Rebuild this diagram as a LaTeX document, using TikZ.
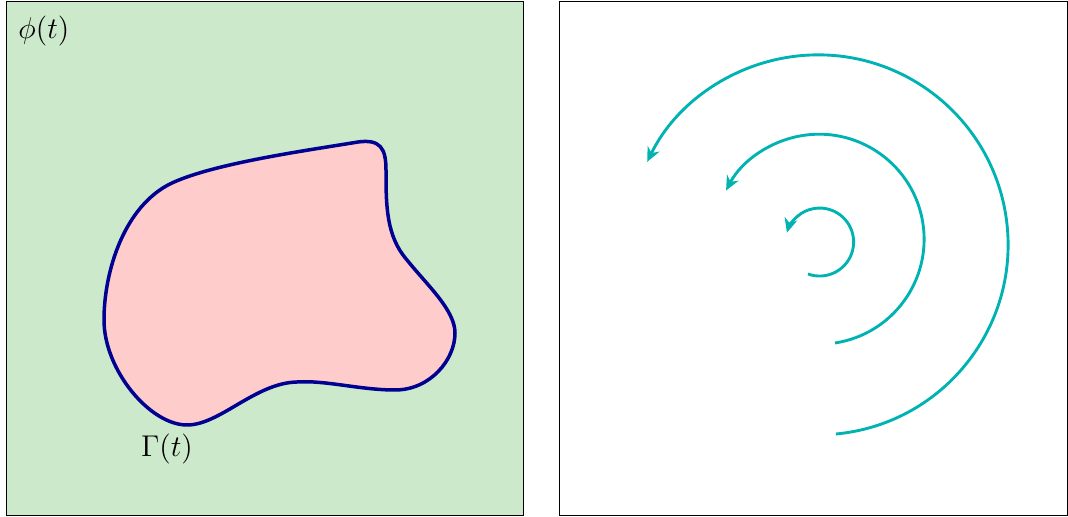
\documentclass[tikz,border=0pt]{standalone}
\usetikzlibrary{arrows.meta}
\definecolor{boxgreen}{RGB}{204,233,204}
\definecolor{blobpink}{RGB}{255,204,204}
\definecolor{blobblue}{RGB}{0,0,145}
\definecolor{spiralcol}{RGB}{0,178,178}
\tikzset{
  panel/.style={draw=black, line width=0.4pt},
  blobline/.style={draw=blobblue, fill=blobpink, line width=1.4pt},
  spiral/.style={draw=spiralcol, line width=1.15pt, -{Stealth[length=5.8pt,width=5.2pt]}},
  lbl/.style={inner sep=0pt, font=\fontsize{12}{14}\selectfont}
}
\begin{document}
\begin{tikzpicture}[x=0.4pt,y=-0.4pt]
\useasboundingbox (0,0) rectangle (1068,517);
% left panel
\draw[panel, fill=boxgreen] (6,2) rectangle (523,516);
\draw[blobline] (104,320)
  .. controls (104,270) and (125,205) .. (172,183)
  .. controls (215,163) and (310,150) .. (358,142)
  .. controls (380,139) and (386,148) .. (386,170)
  .. controls (386,205) and (386,236) .. (407,260)
  .. controls (427,285) and (455,310) .. (455,333)
  .. controls (455,360) and (430,390) .. (395,390)
  .. controls (360,390) and (325,380) .. (297,382)
  .. controls (255,383) and (220,425) .. (187,425)
  .. controls (150,425) and (104,370) .. (104,320) -- cycle;
\node[lbl, anchor=west] (phi) at (18,31) {$\phi(t)$};
\node[lbl] (gamma) at (167,449) {$\Gamma(t)$};
% right panel
\draw[panel] (559,2) rectangle (1067,516);
\draw[spiral] (808,274) arc[start angle=110, end angle=-164, radius=34];
\draw[spiral] (835,343) arc[start angle=81.3, end angle=-152.4, radius=105];
\draw[spiral] (836,434) arc[start angle=84.6, end angle=-154.1, radius=190];
\end{tikzpicture}
\end{document}
